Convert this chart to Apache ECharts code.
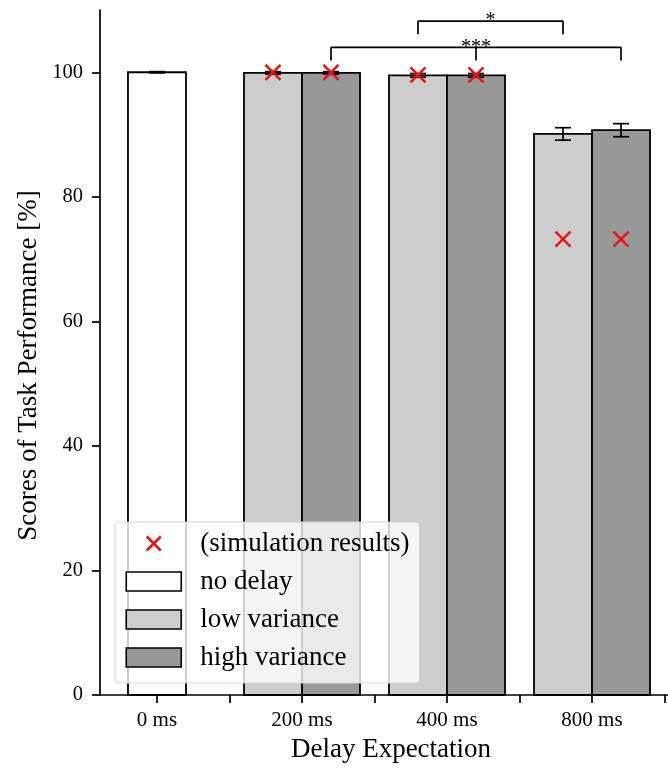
<!DOCTYPE html>
<html><head><meta charset="utf-8">
<script src="https://cdn.jsdelivr.net/npm/echarts@6.0.0/dist/echarts.min.js"></script>
<style>html,body{margin:0;padding:0;background:#fff}#chart{width:668px;height:771px}</style>
</head><body><div id="chart"></div>
<script>
// ---- data ----
const categories = ['0 ms', '200 ms', '400 ms', '800 ms'];
const noDelayValues = [100.0, null, null, null];
const noDelayErrors = [0.1, null, null, null];
const lowVarianceValues = [null, 99.9, 99.5, 90.1];
const lowVarianceErrors = [null, 0.2, 0.3, 1.0];
const highVarianceValues = [null, 99.9, 99.5, 90.7];
const highVarianceErrors = [null, 0.2, 0.3, 1.05];
const simLowValues = [null, 100.0, 99.6, 73.2];
const simHighValues = [null, 100.0, 99.6, 73.2];
const yTickValues = [0, 20, 40, 60, 80, 100];
const sigLabels = ['*', '***'];
const sigVariants = ['low', 'high'];
const sigCategories = [[2, 3], [1, 2, 3]];
const sigLevels = [108.2, 104.0];
const sigDrop = 2.1;

// ---- layout constants ----
const FONT = 'Liberation Serif';
const OFFSET = { none: 0, low: -0.2, high: 0.2 };
const BAR_W = 0.4;
const CAP = 8;
const X_MIN = -0.393, X_MAX = 3.524;
const COLORS = { none: '#ffffff', low: '#cdcdcd', high: '#989898' };

function barSeries(name, variant, values, errors) {
  const data = [];
  values.forEach((v, i) => { if (v != null) data.push([i + OFFSET[variant], v, errors[i] || 0]); });
  const fill = COLORS[variant];
  return {
    type: 'custom', name, xAxisIndex: 0, yAxisIndex: 0, z: 2,
    itemStyle: { color: fill, borderColor: '#000', borderWidth: 1.5 },
    encode: { x: 0, y: 1 },
    renderItem(params, api) {
      const x = api.value(0), v = api.value(1), e = api.value(2);
      const top = api.coord([x, v]);
      const base = api.coord([x, 0]);
      const w = api.size([BAR_W, 0])[0];
      const ch = [{ type: 'rect', shape: { x: top[0] - w / 2, y: top[1], width: w, height: base[1] - top[1] },
        style: { fill, stroke: '#000', lineWidth: 1.8 } }];
      if (e > 0) {
        const hi = api.coord([x, v + e]), lo = api.coord([x, v - e]);
        const st = { stroke: '#000', lineWidth: 1.7 };
        ch.push({ type: 'line', shape: { x1: top[0], y1: hi[1], x2: top[0], y2: lo[1] }, style: st, z2: 5 });
        ch.push({ type: 'line', shape: { x1: top[0] - CAP, y1: hi[1], x2: top[0] + CAP, y2: hi[1] }, style: st, z2: 5 });
        ch.push({ type: 'line', shape: { x1: top[0] - CAP, y1: lo[1], x2: top[0] + CAP, y2: lo[1] }, style: st, z2: 5 });
      }
      return { type: 'group', children: ch };
    },
    data
  };
}

const simData = [];
categories.forEach((c, i) => {
  if (simLowValues[i] != null) simData.push([i + OFFSET.low, simLowValues[i]]);
  if (simHighValues[i] != null) simData.push([i + OFFSET.high, simHighValues[i]]);
});

const bracketSeries = [];
const starData = [];
sigLabels.forEach((lab, k) => {
  const cats = sigCategories[k], off = OFFSET[sigVariants[k]], lvl = sigLevels[k];
  const xs = cats.map(c => c + off);
  const x0 = xs[0], x1 = xs[xs.length - 1];
  bracketSeries.push({ type: 'line', xAxisIndex: 0, yAxisIndex: 0, symbol: 'none', z: 3, silent: true,
    lineStyle: { color: '#000', width: 1.7 },
    data: [[x0, lvl - sigDrop], [x0, lvl], [x1, lvl], [x1, lvl - sigDrop]] });
  xs.slice(1, -1).forEach(xm => bracketSeries.push({ type: 'line', xAxisIndex: 0, yAxisIndex: 0, symbol: 'none', z: 3, silent: true,
    lineStyle: { color: '#000', width: 1.7 }, data: [[xm, lvl], [xm, lvl - sigDrop]] }));
  starData.push([(x0 + x1) / 2, lvl, lab]);
});

const XPATH = 'path://M0,0L10,10M10,0L0,10';
const XLEGEND = 'path://M0,0M55,19M20.5,2.5L34.5,16.5M34.5,2.5L20.5,16.5';

const option = {
  animation: false,
  backgroundColor: '#fff',
  grid: [
    { left: 100, right: 0, top: 10, bottom: 76 },
    { left: 157, right: 3.5, top: 10, bottom: 76 },
    { left: 100, right: 558, top: 72.27, bottom: 76 }
  ],
  xAxis: [
    { type: 'value', gridIndex: 0, min: X_MIN, max: X_MAX,
      axisLine: { show: true, onZero: false, lineStyle: { color: '#000', width: 1.7 } },
      axisTick: { show: false }, axisLabel: { show: false }, splitLine: { show: false },
      name: 'Delay Expectation', nameLocation: 'middle', nameGap: 41,
      nameTextStyle: { fontFamily: FONT, fontSize: 27, color: '#000', padding: [0, 0, 0, 14] } },
    { type: 'value', gridIndex: 1, min: 0, max: 3.5, interval: 0.5,
      axisLine: { show: false }, splitLine: { show: false },
      axisTick: { show: true, length: 8, lineStyle: { color: '#000', width: 1.7 } },
      axisLabel: { show: true, margin: 15, fontFamily: FONT, fontSize: 21, color: '#000',
        formatter: v => Number.isInteger(v) ? categories[v] : '' } },
    { type: 'value', gridIndex: 2, min: 0, max: 1, show: false }
  ],
  yAxis: [
    { type: 'value', gridIndex: 0, min: 0, max: 110,
      axisLine: { show: true, onZero: false, lineStyle: { color: '#000', width: 1.7 } },
      axisTick: { show: false }, axisLabel: { show: false }, splitLine: { show: false },
      name: 'Scores of Task Performance [%]', nameLocation: 'middle', nameGap: 58,
      nameTextStyle: { fontFamily: FONT, fontSize: 27, color: '#000', padding: [0, 26, 0, 0] } },
    { type: 'value', gridIndex: 1, min: 0, max: 110, show: false },
    { type: 'value', gridIndex: 2, min: yTickValues[0], max: yTickValues[yTickValues.length - 1], interval: 20,
      axisLine: { show: false, onZero: false }, splitLine: { show: false },
      axisTick: { show: true, length: 8, lineStyle: { color: '#000', width: 1.7 } },
      axisLabel: { show: true, margin: 17, fontFamily: FONT, fontSize: 20.5, color: '#000' } }
  ],
  legend: {
    orient: 'vertical', left: 115, top: 522,
    itemWidth: 55, itemHeight: 19, itemGap: 11,
    padding: [8, 10, 12, 10],
    backgroundColor: 'rgba(255,255,255,0.8)', borderColor: '#d5d5d5', borderWidth: 1, borderRadius: 4,
    selectedMode: false,
    textStyle: { fontFamily: FONT, fontSize: 27, color: '#000', padding: [0, 0, 0, 14] },
    data: [
      { name: '(simulation results)', icon: XLEGEND, itemStyle: { color: 'transparent', borderColor: '#ee1111', borderWidth: 2.5 } },
      { name: 'no delay', icon: 'rect', itemStyle: { color: COLORS.none, borderColor: '#000', borderWidth: 1.6 } },
      { name: 'low variance', icon: 'rect', itemStyle: { color: COLORS.low, borderColor: '#000', borderWidth: 1.6 } },
      { name: 'high variance', icon: 'rect', itemStyle: { color: COLORS.high, borderColor: '#000', borderWidth: 1.6 } }
    ]
  },
  series: [
    barSeries('no delay', 'none', noDelayValues, noDelayErrors),
    barSeries('low variance', 'low', lowVarianceValues, lowVarianceErrors),
    barSeries('high variance', 'high', highVarianceValues, highVarianceErrors),
    { type: 'scatter', name: '(simulation results)', xAxisIndex: 0, yAxisIndex: 0, z: 4,
      symbol: XPATH, symbolSize: 15,
      itemStyle: { color: 'transparent', borderColor: '#ee1111', borderWidth: 2.5, opacity: 1 },
      data: simData },
    ...bracketSeries,
    { type: 'custom', xAxisIndex: 0, yAxisIndex: 0, z: 4, silent: true,
      renderItem(params, api) {
        const p = api.coord([api.value(0), api.value(1)]);
        return { type: 'text', x: p[0], y: p[1],
          style: { text: starData[params.dataIndex][2], fontFamily: FONT, fontSize: 20, fill: '#000',
            align: 'center', verticalAlign: 'middle' } };
      },
      data: starData.map(d => [d[0], d[1]]) }
  ]
};
echarts.init(document.getElementById('chart'), null, { renderer: 'canvas' }).setOption(option);
</script></body></html>
